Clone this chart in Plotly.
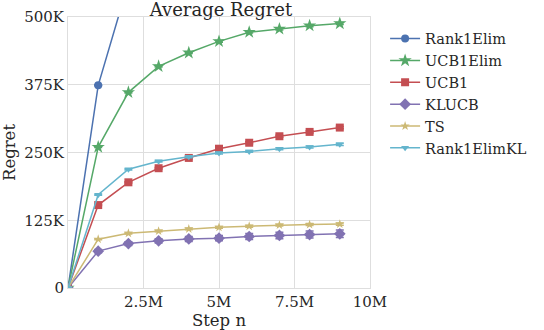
import plotly.graph_objects as go

# data
steps = [0, 1e6, 2e6, 3e6, 4e6, 5e6, 6e6, 7e6, 8e6, 9e6]

rank1elim = [0, 374e3, 563e3, 700e3, 820e3, 930e3, 1030e3, 1120e3, 1200e3, 1270e3]
ucb1elim = [0, 260e3, 361e3, 409e3, 434e3, 455e3, 472e3, 478e3, 484e3, 488e3]
ucb1 = [0, 153e3, 195e3, 221e3, 240e3, 257e3, 268e3, 280e3, 288e3, 296e3]
klucb = [0, 68e3, 82e3, 87e3, 90.5e3, 92e3, 95e3, 97e3, 98.6e3, 100e3]
ts = [0, 90e3, 101e3, 105e3, 109e3, 112e3, 114e3, 116e3, 117e3, 118e3]
rank1elimkl = [0, 172e3, 219e3, 234e3, 242e3, 249e3, 252e3, 257e3, 260e3, 265e3]

klucb_err = [0, 3e3, 3.5e3, 4e3, 4.5e3, 5e3, 5.5e3, 6e3, 6.5e3, 7e3]
small_err = [0, 1e3, 1.2e3, 1.4e3, 1.5e3, 1.6e3, 1.7e3, 1.8e3, 1.9e3, 2e3]

y_ticks = [0, 125e3, 250e3, 375e3, 500e3]
y_labels = ['0', '125K', '250K', '375K', '500K']
x_ticks = [2.5e6, 5e6, 7.5e6, 10e6]
x_labels = ['2.5M', '5M', '7.5M', '10M']

series = [
    ('Rank1Elim', rank1elim, small_err, '#4C72B0', 'circle', 8),
    ('UCB1Elim', ucb1elim, small_err, '#55A868', 'star', 10),
    ('UCB1', ucb1, small_err, '#C44E52', 'square', 8),
    ('KLUCB', klucb, klucb_err, '#8172B2', 'diamond', 9),
    ('TS', ts, small_err, '#CCB974', 'star', 7),
    ('Rank1ElimKL', rank1elimkl, small_err, '#64B5CD', 'triangle-down', 7),
]

font = 'DejaVu Serif, Liberation Serif, serif'

fig = go.Figure()
for name, vals, err, color, symbol, size in series:
    fig.add_trace(go.Scatter(
        x=steps, y=vals, name=name, mode='lines+markers',
        line=dict(color=color, width=1.5),
        marker=dict(color=color, symbol=symbol, size=size),
        error_y=dict(type='data', array=err, color=color, thickness=1.5, width=4),
    ))

fig.update_layout(
    width=544, height=330,
    margin=dict(l=68, r=170, t=17, b=42),
    paper_bgcolor='white', plot_bgcolor='white',
    font=dict(family=font, size=15, color='#262626'),
    title=dict(text='Average Regret', x=221 / 544, xanchor='center',
               y=1 - 10 / 330, yanchor='middle', font=dict(size=18)),
    legend=dict(x=1.05, y=0.979, xanchor='left', yanchor='top',
                font=dict(size=14.5), bgcolor='rgba(0,0,0,0)'),
)
fig.update_xaxes(
    range=[0, 10e6], tickvals=x_ticks, ticktext=x_labels,
    showgrid=True, gridcolor='#dedede', gridwidth=1,
    showline=True, linecolor='#dedede', mirror=True, zeroline=False,
    automargin=False,
    ticks='', title=dict(text='Step n', font=dict(size=16.5), standoff=4),
)
fig.update_yaxes(
    range=[0, 500e3], tickvals=y_ticks, ticktext=y_labels,
    showgrid=True, gridcolor='#dedede', gridwidth=1,
    showline=True, linecolor='#dedede', mirror=True, zeroline=False,
    automargin=False,
    ticks='', title=dict(text='Regret', font=dict(size=16.5), standoff=6),
)

fig.write_html('out.html', config={'displayModeBar': False},
               post_script="document.body.style.margin='0';")
